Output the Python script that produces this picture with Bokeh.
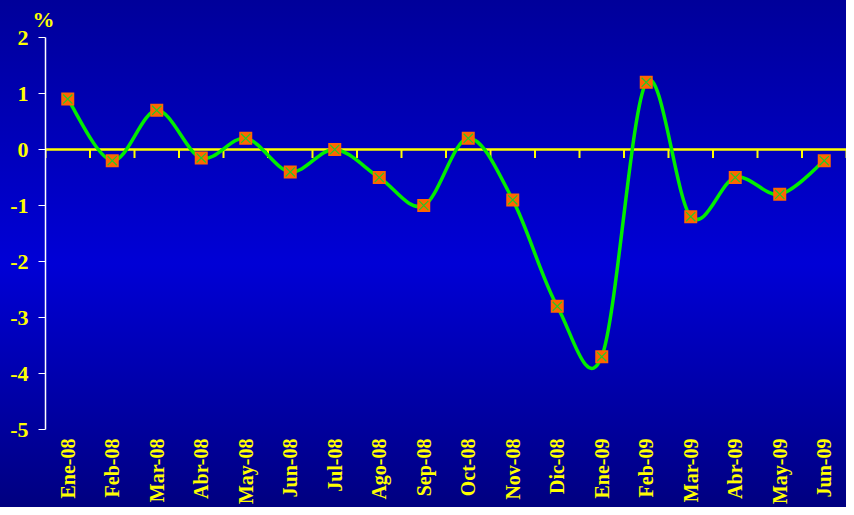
import numpy as np
from bokeh.plotting import figure
from bokeh.models import FactorRange, Range1d, FixedTicker, ColumnDataSource
from bokeh.embed import file_html
from bokeh.resources import INLINE

months = ["Ene-08", "Feb-08", "Mar-08", "Abr-08", "May-08", "Jun-08", "Jul-08", "Ago-08",
          "Sep-08", "Oct-08", "Nov-08", "Dic-08", "Ene-09", "Feb-09", "Mar-09", "Abr-09",
          "May-09", "Jun-09"]
values = [0.9, -0.2, 0.7, -0.15, 0.2, -0.4, 0.0, -0.5, -1.0, 0.2, -0.9, -2.8, -3.7, 1.2,
          -1.2, -0.5, -0.8, -0.2]
y_ticks = [2, 1, 0, -1, -2, -3, -4, -5]

YELLOW = "#FFFF00"
FONT = "Liberation Serif"

p = figure(width=846, height=507, x_range=FactorRange(factors=months, range_padding=0),
           y_range=Range1d(-5, 2), output_backend="svg", toolbar_location=None,
           min_border_left=45, min_border_right=0, min_border_top=37, min_border_bottom=75,
           title="%")
p.styles = {"background": "linear-gradient(180deg, #00009A 0%, #0000D6 52%, #000080 100%)"}
p.background_fill_alpha = 0
p.border_fill_alpha = 0
p.outline_line_color = None
p.xgrid.visible = False
p.ygrid.visible = False

p.title.align = "left"
p.title.vertical_align = "top"
p.title.offset = -13
p.title.standoff = 8
p.title.text_color = YELLOW
p.title.text_font = FONT
p.title.text_font_style = "bold"
p.title.text_font_size = "22px"

# y axis
p.yaxis.ticker = FixedTicker(ticks=y_ticks)
p.yaxis.major_label_overrides = {t: str(t) for t in y_ticks}
p.yaxis.axis_line_color = "white"
p.yaxis.axis_line_width = 1.5
p.yaxis.major_tick_line_color = "white"
p.yaxis.major_tick_in = 0
p.yaxis.major_tick_out = 7
p.yaxis.minor_tick_line_color = None
p.yaxis.major_label_text_color = YELLOW
p.yaxis.major_label_text_font = FONT
p.yaxis.major_label_text_font_style = "bold"
p.yaxis.major_label_text_font_size = "22px"
p.yaxis.major_label_standoff = 10

# x axis (labels only at bottom)
p.xaxis.axis_line_color = None
p.xaxis.major_tick_line_color = None
p.xaxis.minor_tick_line_color = None
p.xaxis.major_label_orientation = np.pi / 2
p.xaxis.major_label_text_color = YELLOW
p.xaxis.major_label_text_font = FONT
p.xaxis.major_label_text_font_style = "bold"
p.xaxis.major_label_text_font_size = "20px"
p.xaxis.major_label_standoff = 3

# zero line with ticks at category boundaries
n = len(months)
p.segment(x0=[0], y0=[0], x1=[n], y1=[0], line_color=YELLOW, line_width=2.5)
bx = list(range(n + 1))
p.segment(x0=bx, y0=[0] * len(bx), x1=bx, y1=[-0.15] * len(bx), line_color=YELLOW, line_width=2)

# smoothed line (Catmull-Rom -> cubic Bezier)
xs = np.arange(n) + 0.5
ys = np.array(values, dtype=float)
px = np.concatenate([[xs[0]], xs, [xs[-1]]])
py = np.concatenate([[ys[0]], ys, [ys[-1]]])
x0, y0, x1, y1, cx0, cy0, cx1, cy1 = [], [], [], [], [], [], [], []
for i in range(n - 1):
    p0x, p0y = px[i], py[i]
    p1x, p1y = px[i + 1], py[i + 1]
    p2x, p2y = px[i + 2], py[i + 2]
    p3x, p3y = px[i + 3], py[i + 3]
    x0.append(p1x); y0.append(p1y); x1.append(p2x); y1.append(p2y)
    cx0.append(p1x + (p2x - p0x) / 6); cy0.append(p1y + (p2y - p0y) / 6)
    cx1.append(p2x - (p3x - p1x) / 6); cy1.append(p2y - (p3y - p1y) / 6)
p.bezier(x0=x0, y0=y0, x1=x1, y1=y1, cx0=cx0, cy0=cy0, cx1=cx1, cy1=cy1,
         line_color="#00EE00", line_width=3.5)

src = ColumnDataSource(dict(m=months, v=values))
p.scatter("m", "v", source=src, marker="square", size=13, fill_color="#FF6600", line_color=None)
p.scatter("m", "v", source=src, marker="x", size=13, line_color="#22CC22", line_width=1.2)

open("out.html", "w").write(file_html(p, INLINE))
